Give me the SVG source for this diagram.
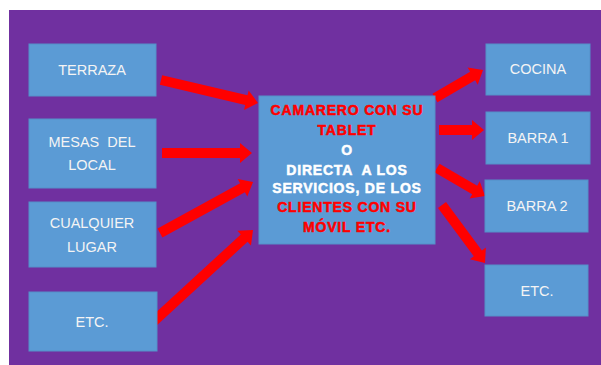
<svg xmlns="http://www.w3.org/2000/svg" width="601" height="365" viewBox="0 0 601 365">
<style>
text{white-space:pre}
.box{fill:#5B9BD5;stroke:#5590C8;stroke-width:1}
.lbl{font-family:"Liberation Sans","Open Sans",Arial,sans-serif;font-size:14.5px;fill:#F4F4F4;text-anchor:middle;dominant-baseline:central}
.ctr{font-family:"Liberation Sans",Arial,sans-serif;font-weight:bold;font-size:14px;letter-spacing:0.8px;text-anchor:middle;dominant-baseline:central;stroke-width:0.5px}
.r{fill:#FF0000;stroke:#FF0000}
.w{fill:#FFFFFF;stroke:#FFFFFF}
.arr{fill:#FF0000}
</style>
<rect x="0" y="0" width="601" height="365" fill="#FFFFFF"/>
<rect x="9" y="10" width="592" height="355" fill="#7030A0"/>
<g id="connectors">
<path class="arr" transform="translate(161,80) rotate(13.34)" d="M0,-5 H87.7 V-10 L99.7,0 L87.7,10 V5 H0 Z"/>
<path class="arr" transform="translate(162,153)" d="M0,-5 H78 V-10 L90,0 L78,10 V5 H0 Z"/>
<path class="arr" transform="translate(160,233) rotate(-28.74)" d="M0,-5 H94.1 V-10 L106.1,0 L94.1,10 V5 H0 Z"/>
<path class="arr" transform="translate(153,322) rotate(-42.61)" d="M0,-5 H123.9 V-10 L135.9,0 L123.9,10 V5 H0 Z"/>
<path class="arr" transform="translate(435,98) rotate(-30.26)" d="M0,-5 H43.6 V-10 L55.6,0 L43.6,10 V5 H0 Z"/>
<path class="arr" transform="translate(439,130)" d="M0,-5 H33 V-10 L45,0 L33,10 V5 H0 Z"/>
<path class="arr" transform="translate(437,168) rotate(30.26)" d="M0,-5 H43.6 V-10 L55.6,0 L43.6,10 V5 H0 Z"/>
<path class="arr" transform="translate(442,205) rotate(53.44)" d="M0,-5 H60.2 V-10 L72.2,0 L60.2,10 V5 H0 Z"/>
</g>
<g id="terraza"><rect class="box" x="29" y="44" width="127" height="52"/><text class="lbl" x="92" y="70">TERRAZA</text></g>
<g id="mesas"><rect class="box" x="29" y="119" width="127" height="69"/><text class="lbl" x="92" y="142">MESAS  DEL</text><text class="lbl" x="92" y="165">LOCAL</text></g>
<g id="cualquier"><rect class="box" x="29" y="202" width="127" height="65"/><text class="lbl" x="92" y="223">CUALQUIER</text><text class="lbl" x="92" y="247">LUGAR</text></g>
<g id="etc-left"><rect class="box" x="29" y="292" width="128" height="59"/><text class="lbl" x="92" y="322">ETC.</text></g>
<g id="center"><rect class="box" x="259" y="96" width="176" height="148"/>
<text class="ctr r" x="347" y="110">CAMARERO CON SU</text>
<text class="ctr r" x="347" y="130">TABLET</text>
<text class="ctr w" x="347" y="150">O</text>
<text class="ctr w" x="347" y="170">DIRECTA  A LOS</text>
<text class="ctr w" x="347" y="188">SERVICIOS, DE LOS</text>
<text class="ctr r" x="347" y="207">CLIENTES CON SU</text>
<text class="ctr r" x="347" y="227">MÓVIL ETC.</text>
</g>
<g id="cocina"><rect class="box" x="486" y="44" width="104" height="51"/><text class="lbl" x="538" y="69">COCINA</text></g>
<g id="barra1"><rect class="box" x="486" y="112" width="104" height="52"/><text class="lbl" x="538" y="138">BARRA 1</text></g>
<g id="barra2"><rect class="box" x="485" y="180" width="103" height="52"/><text class="lbl" x="537" y="206">BARRA 2</text></g>
<g id="etc-right"><rect class="box" x="485" y="265" width="103" height="51"/><text class="lbl" x="537" y="291">ETC.</text></g>
</svg>
